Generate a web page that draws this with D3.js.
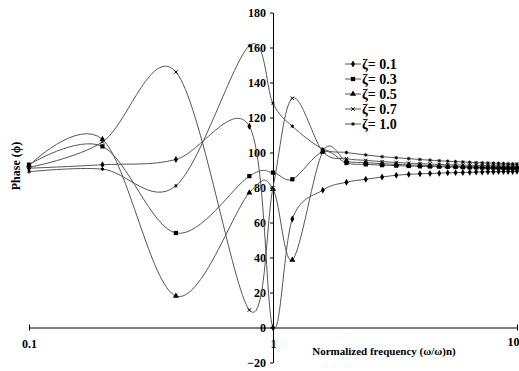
<!DOCTYPE html>
<html>
<head>
<meta charset="utf-8">
<script src="https://cdn.jsdelivr.net/npm/d3@7"></script>
<style>
  body { margin: 0; background: #fff; }
  text { font-family: "Liberation Serif", "Times New Roman", serif; font-weight: bold; }
</style>
</head>
<body>
<script>
// normalized frequency (x) and phase readings per damping ratio
const freq = [0.1, 0.2, 0.4, 0.8, 1.0, 1.2, 1.6, 2.0, 2.4, 2.8, 3.2, 3.6, 4.0, 4.4, 4.8,
  5.2, 5.6, 6.0, 6.4, 6.8, 7.2, 7.6, 8.0, 8.4, 8.8, 9.2, 9.6, 10];
const zeta01 = [91, 93, 96, 115, 0, 62, 78.5, 83, 84.7, 86, 87, 87.5, 87.8, 88, 88.2,
  88.4, 88.5, 88.6, 88.7, 88.8, 88.9, 89, 89, 89.1, 89.1, 89.2, 89.2, 89.3];
const zeta03 = [93, 103.5, 54, 86.5, 88.5, 84.7, 100.5, 94, 93.2, 92.8, 92.5, 92.3, 92.1, 92, 91.9,
  91.8, 91.7, 91.6, 91.5, 91.5, 91.4, 91.4, 91.3, 91.3, 91.2, 91.2, 91.2, 91.1];
const zeta05 = [92.5, 107.5, 18, 77, 79, 38.6, 100.5, 95, 94.2, 93.6, 93.2, 92.9, 92.7, 92.5, 92.3,
  92.2, 92.1, 92, 91.9, 91.8, 91.8, 91.7, 91.7, 91.6, 91.6, 91.5, 91.5, 91.5];
const zeta07 = [91.5, 106, 146, 10, 80, 131, 100.5, 96.5, 95.5, 94.8, 94.3, 93.9, 93.6, 93.4, 93.2,
  93, 92.9, 92.8, 92.7, 92.6, 92.5, 92.5, 92.4, 92.4, 92.3, 92.3, 92.2, 92.2];
const zeta10 = [89, 90.5, 81, 161, 128, 115, 102, 100, 98.6, 97.6, 97, 96.5, 96, 95.6, 95.3,
  95, 94.8, 94.6, 94.4, 94.2, 94.1, 94, 93.9, 93.8, 93.7, 93.6, 93.5, 93.5];

const seriesNames = ["ζ= 0.1", "ζ= 0.3", "ζ= 0.5", "ζ= 0.7", "ζ= 1.0"];
const seriesValues = [zeta01, zeta03, zeta05, zeta07, zeta10];
const yTicks = [-20, 0, 20, 40, 60, 80, 100, 120, 140, 160, 180];
const xTicks = [0.1, 1, 10];

const width = 519, height = 371;

const x = d3.scaleLog().domain([0.1, 10]).range([29, 517]);
const y = d3.scaleLinear().domain([-20, 180]).range([362.5, 12.5]);

const svg = d3.select("body").append("svg")
  .attr("width", width)
  .attr("height", height);

const timesSym = d3.symbolTimes || d3.symbolCross;
const starSym = d3.symbolAsterisk || d3.symbolCross;
const markers = [
  { type: d3.symbolDiamond, size: 14, fill: true },
  { type: d3.symbolSquare, size: 18, fill: true },
  { type: d3.symbolTriangle, size: 16, fill: true },
  { type: timesSym, size: 9, fill: false },
  { type: starSym, size: 9, fill: false }
];

// x axis along phase = 0
const xAxis = svg.append("g")
  .attr("transform", `translate(0,${y(0)})`)
  .call(d3.axisBottom(x).tickValues(xTicks).tickFormat(d3.format("")).tickSize(3).tickPadding(9).tickSizeOuter(0));
xAxis.select(".domain").attr("stroke", "#000");
xAxis.selectAll("text").attr("font-size", 12).attr("fill", "#000");
xAxis.selectAll(".tick line").attr("y1", -3);
xAxis.selectAll(".tick text").filter(d => d === 10)
  .attr("text-anchor", "end").attr("x", 2).attr("dy", "0.5em");

// y axis at frequency = 1
const yAxis = svg.append("g")
  .attr("transform", `translate(${x(1)},0)`)
  .call(d3.axisLeft(y).tickValues(yTicks).tickSize(3).tickPadding(4).tickSizeOuter(0));
yAxis.select(".domain").attr("stroke", "#000");
yAxis.selectAll("text").attr("font-size", 12).attr("fill", "#000");

const line = d3.line()
  .x(d => x(d.f))
  .y(d => y(d.v))
  .curve(d3.curveCardinal.tension(0));

seriesValues.forEach((vals, i) => {
  const pts = freq.map((f, j) => ({ f, v: vals[j] }));
  svg.append("path")
    .datum(pts)
    .attr("d", line)
    .attr("fill", "none")
    .attr("stroke", "#555")
    .attr("stroke-width", 1);
  const m = markers[i];
  svg.append("g").selectAll("path")
    .data(pts)
    .join("path")
    .attr("transform", d => `translate(${x(d.f)},${y(d.v)})`)
    .attr("d", d3.symbol(m.type, m.size))
    .attr("fill", m.fill ? "#000" : "none")
    .attr("stroke", "#000")
    .attr("stroke-width", m.fill ? 0 : 1);
});

// legend
const legend = svg.append("g").attr("transform", "translate(345,64)");
seriesNames.forEach((name, i) => {
  const g = legend.append("g").attr("transform", `translate(0,${i * 15})`);
  g.append("line").attr("x1", 0).attr("x2", 16).attr("stroke", "#555");
  const m = markers[i];
  g.append("path")
    .attr("transform", "translate(8,0)")
    .attr("d", d3.symbol(m.type, m.size))
    .attr("fill", m.fill ? "#000" : "none")
    .attr("stroke", "#000")
    .attr("stroke-width", m.fill ? 0 : 1);
  g.append("text")
    .attr("x", 17)
    .attr("dy", "0.35em")
    .attr("font-size", 14)
    .text(name);
});

// axis titles
svg.append("text")
  .attr("transform", "translate(20,166) rotate(-90)")
  .attr("text-anchor", "middle")
  .attr("font-size", 12)
  .text("Phase (ϕ)");

svg.append("text")
  .attr("x", 384)
  .attr("y", 355)
  .attr("text-anchor", "middle")
  .attr("font-size", 11)
  .text("Normalized frequency (ω/ω)n)");
</script>
</body>
</html>
